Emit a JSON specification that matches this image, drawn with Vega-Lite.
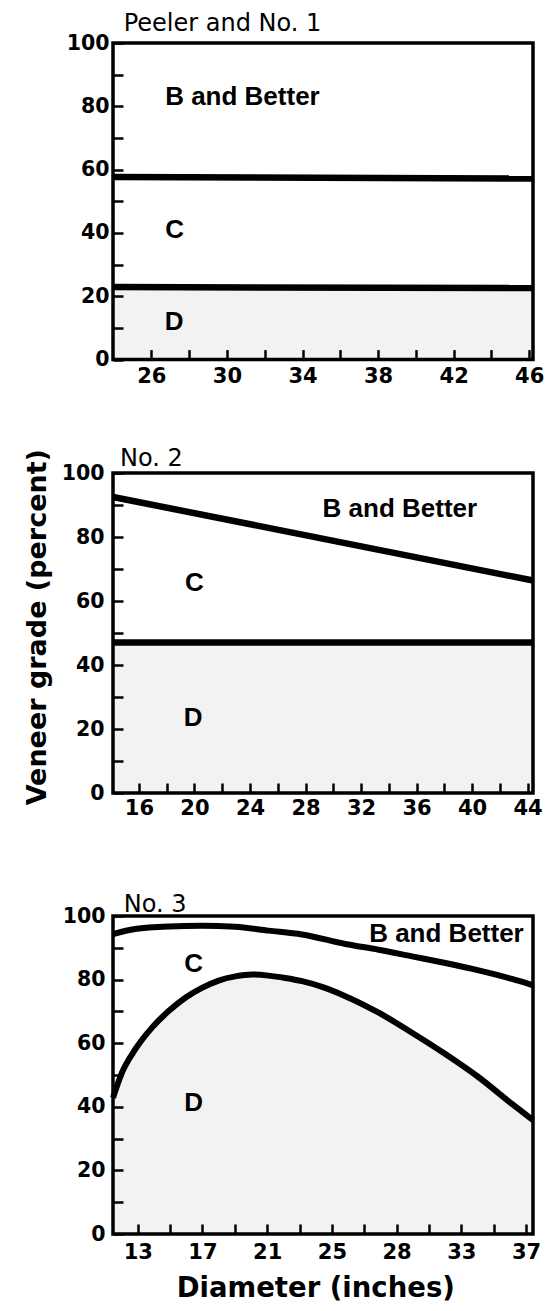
{
  "$schema": "https://vega.github.io/schema/vega-lite/v6.json",
  "background": "white",
  "padding": {"left": 21, "top": 10, "right": 2, "bottom": 2},
  "config": {
    "font": "DejaVu Sans",
    "view": {"stroke": "black", "strokeWidth": 3.5},
    "axis": {
      "domain": false, "grid": false, "ticks": true, "tickSize": -10, "tickWidth": 2.5, "tickColor": "black",
      "labelFont": "DejaVu Sans", "labelFontWeight": "bold", "labelColor": "black",
      "labelFlush": false, "labelOverlap": false, "labelBound": false, "zindex": 1
    },
    "axisX": {"labelFontSize": 21},
    "axisY": {"labelFontSize": 20.5}
  },
  "vconcat": [
    {
      "spacing": 55,
      "vconcat": [
        {
          "width": 420, "height": 316.6,
          "title": {"text": "Peeler and No. 1", "anchor": "start", "frame": "group", "dx": 10.7, "offset": -22.2, "baseline": "alphabetic", "font": "DejaVu Sans", "fontSize": 24, "fontWeight": "normal", "color": "black"},
          "data": {"values": [
            {"d": 23.97, "v": 57.7, "b": "upper"}, {"d": 46.2, "v": 57.2, "b": "upper"},
            {"d": 23.97, "v": 22.9, "b": "lower"}, {"d": 46.2, "v": 22.6, "b": "lower"}
          ]},
          "encoding": {
            "x": {"field": "d", "type": "quantitative", "scale": {"domain": [23.97, 46.2], "nice": false, "zero": false},
                  "axis": {"title": null, "values": [26, 28, 30, 32, 34, 36, 38, 40, 42, 44, 46], "labelExpr": "datum.value % 4 == 2 ? datum.label : ''", "labelPadding": 16}},
            "y": {"field": "v", "type": "quantitative", "scale": {"domain": [0, 100], "nice": false},
                  "axis": {"title": null, "values": [0, 10, 20, 30, 40, 50, 60, 70, 80, 90, 100], "labelExpr": "datum.value % 20 == 0 ? datum.label : ''", "labelPadding": 14}}
          },
          "layer": [
            {"transform": [{"filter": "datum.b == 'lower'"}], "mark": {"type": "area", "fill": "black", "fillOpacity": 0.05}, "encoding": {"y": {"field": "v", "type": "quantitative", "stack": null}}},
            {"mark": {"type": "line", "color": "black", "strokeWidth": 6.5}, "encoding": {"detail": {"field": "b"}}},
            {"data": {"values": [
              {"d": 30.82, "v": 80.35, "label": "B and Better"},
              {"d": 27.23, "v": 38.55, "label": "C"},
              {"d": 27.2, "v": 9.26, "label": "D"}
            ]}, "mark": {"type": "text", "font": "Liberation Sans", "fontWeight": "bold", "fontSize": 26, "align": "center", "baseline": "alphabetic", "color": "black"}, "encoding": {"text": {"field": "label"}}}
          ]
        },
        {
          "width": 420, "height": 320,
          "title": {"text": "No. 2", "anchor": "start", "frame": "group", "dx": 7, "offset": -41, "baseline": "alphabetic", "font": "DejaVu Sans", "fontSize": 24, "fontWeight": "normal", "color": "black"},
          "data": {"values": [
            {"d": 14.13, "v": 92.5, "b": "upper"}, {"d": 44.39, "v": 66.4, "b": "upper"},
            {"d": 14.13, "v": 47.0, "b": "lower"}, {"d": 44.39, "v": 47.0, "b": "lower"}
          ]},
          "encoding": {
            "x": {"field": "d", "type": "quantitative", "scale": {"domain": [14.13, 44.39], "nice": false, "zero": false},
                  "axis": {"title": null, "values": [16, 18, 20, 22, 24, 26, 28, 30, 32, 34, 36, 38, 40, 42, 44], "labelExpr": "datum.value % 4 == 0 ? datum.label : ''", "labelPadding": 14}},
            "y": {"field": "v", "type": "quantitative", "scale": {"domain": [0, 100], "nice": false},
                  "axis": {"title": "Veneer grade (percent)", "titleFont": "DejaVu Sans", "titleFontWeight": "bold", "titleFontSize": 27, "titleColor": "black", "titleX": -68, "titleY": 153.7, "titleAngle": -90, "titleAlign": "center", "titleBaseline": "alphabetic",
                           "values": [0, 10, 20, 30, 40, 50, 60, 70, 80, 90, 100], "labelExpr": "datum.value % 20 == 0 ? datum.label : ''", "labelPadding": 19}}
          },
          "layer": [
            {"transform": [{"filter": "datum.b == 'lower'"}], "mark": {"type": "area", "fill": "black", "fillOpacity": 0.05}, "encoding": {"y": {"field": "v", "type": "quantitative", "stack": null}}},
            {"mark": {"type": "line", "color": "black", "strokeWidth": 6.5}, "encoding": {"detail": {"field": "b"}}},
            {"data": {"values": [
              {"d": 34.8, "v": 86.4, "label": "B and Better"},
              {"d": 20.0, "v": 63.0, "label": "C"},
              {"d": 19.9, "v": 20.8, "label": "D"}
            ]}, "mark": {"type": "text", "font": "Liberation Sans", "fontWeight": "bold", "fontSize": 26, "align": "center", "baseline": "alphabetic", "color": "black"}, "encoding": {"text": {"field": "label"}}}
          ]
        }
      ]
    },
    {
      "width": 420, "height": 318,
      "title": {"text": "No. 3", "anchor": "start", "frame": "group", "dx": 10.7, "offset": -29.6, "baseline": "alphabetic", "font": "DejaVu Sans", "fontSize": 24, "fontWeight": "normal", "color": "black"},
      "data": {"values": [
        {"d": 11.47, "v": 94.3, "b": "upper"}, {"d": 12.83, "v": 95.9, "b": "upper"}, {"d": 14.91, "v": 96.7, "b": "upper"},
        {"d": 16.97, "v": 96.9, "b": "upper"}, {"d": 19.01, "v": 96.6, "b": "upper"}, {"d": 21.09, "v": 95.4, "b": "upper"},
        {"d": 23.15, "v": 94.2, "b": "upper"}, {"d": 25.83, "v": 91.2, "b": "upper"}, {"d": 27.89, "v": 89.4, "b": "upper"},
        {"d": 29.95, "v": 87.3, "b": "upper"}, {"d": 32.01, "v": 85.2, "b": "upper"}, {"d": 34.07, "v": 82.9, "b": "upper"},
        {"d": 36.13, "v": 80.2, "b": "upper"}, {"d": 37.43, "v": 78.2, "b": "upper"},
        {"d": 11.47, "v": 42.8, "b": "lower"}, {"d": 12.03, "v": 50.8, "b": "lower"}, {"d": 12.85, "v": 58.1, "b": "lower"},
        {"d": 13.88, "v": 64.9, "b": "lower"}, {"d": 14.91, "v": 70.1, "b": "lower"}, {"d": 15.94, "v": 74.3, "b": "lower"},
        {"d": 16.97, "v": 77.4, "b": "lower"}, {"d": 18.0, "v": 79.7, "b": "lower"}, {"d": 19.03, "v": 81.0, "b": "lower"},
        {"d": 20.06, "v": 81.6, "b": "lower"}, {"d": 21.09, "v": 81.25, "b": "lower"}, {"d": 22.12, "v": 80.5, "b": "lower"},
        {"d": 23.15, "v": 79.5, "b": "lower"}, {"d": 24.39, "v": 77.7, "b": "lower"}, {"d": 25.83, "v": 74.8, "b": "lower"},
        {"d": 27.89, "v": 69.6, "b": "lower"}, {"d": 29.95, "v": 63.3, "b": "lower"}, {"d": 32.01, "v": 56.6, "b": "lower"},
        {"d": 34.07, "v": 49.3, "b": "lower"}, {"d": 36.13, "v": 40.9, "b": "lower"}, {"d": 37.43, "v": 35.8, "b": "lower"}
      ]},
      "encoding": {
        "x": {"field": "d", "type": "quantitative", "scale": {"domain": [11.47, 37.43], "nice": false, "zero": false},
              "axis": {"title": "Diameter (inches)", "titleFont": "DejaVu Sans", "titleFontWeight": "bold", "titleFontSize": 27.5, "titleColor": "black", "titleX": 202.3, "titleY": 62.7, "titleAlign": "center", "titleBaseline": "alphabetic",
                       "values": [13, 15, 17, 19, 21, 23, 25, 27, 29, 31, 33, 35, 37], "labelExpr": "(datum.value - 13) % 4 == 0 ? (datum.value == 29 ? '28' : datum.label) : ''", "labelPadding": 17}},
        "y": {"field": "v", "type": "quantitative", "scale": {"domain": [0, 100], "nice": false},
              "axis": {"title": null, "values": [0, 10, 20, 30, 40, 50, 60, 70, 80, 90, 100], "labelExpr": "datum.value % 20 == 0 ? datum.label : ''", "labelPadding": 18}}
      },
      "layer": [
        {"transform": [{"filter": "datum.b == 'lower'"}], "mark": {"type": "area", "fill": "black", "fillOpacity": 0.05, "interpolate": "monotone"}, "encoding": {"y": {"field": "v", "type": "quantitative", "stack": null}}},
        {"mark": {"type": "line", "color": "black", "strokeWidth": 6, "interpolate": "monotone"}, "encoding": {"detail": {"field": "b"}}},
        {"data": {"values": [
          {"d": 32.08, "v": 91.8, "label": "B and Better"},
          {"d": 16.45, "v": 82.5, "label": "C"},
          {"d": 16.45, "v": 38.8, "label": "D"}
        ]}, "mark": {"type": "text", "font": "Liberation Sans", "fontWeight": "bold", "fontSize": 26, "align": "center", "baseline": "alphabetic", "color": "black"}, "encoding": {"text": {"field": "label"}}}
      ]
    }
  ],
  "spacing": 70
}
